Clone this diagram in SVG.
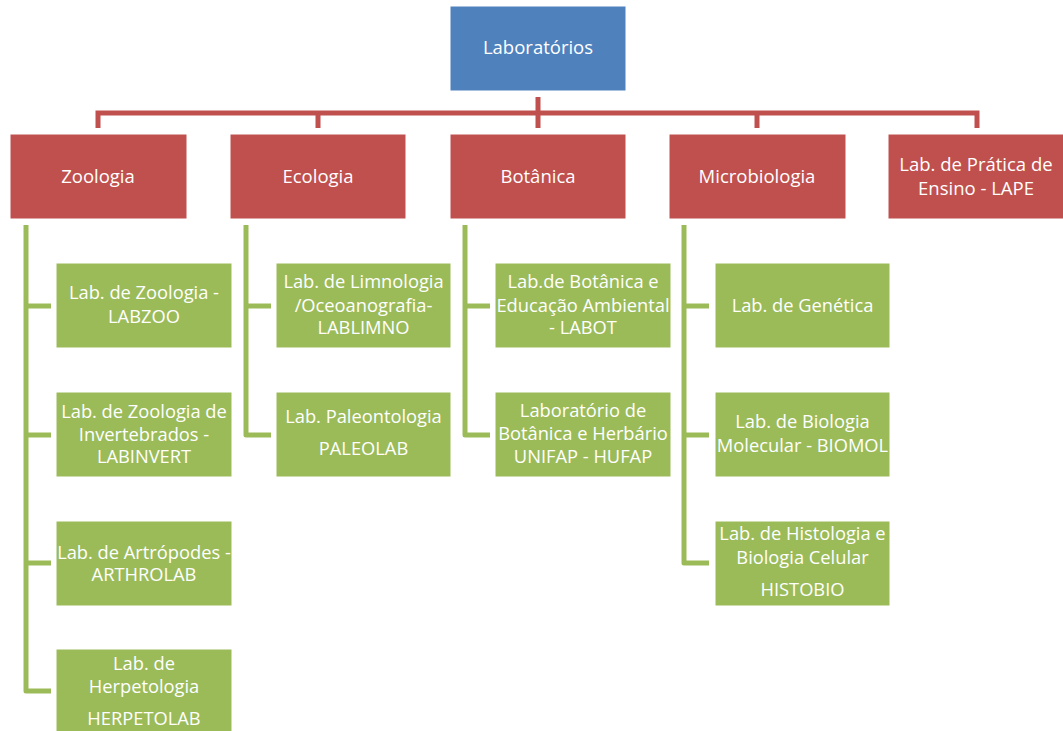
<svg xmlns="http://www.w3.org/2000/svg" width="1063" height="731" viewBox="0 0 1063 731">
<style>
.blue{fill:#4F81BD;stroke:#ffffff;stroke-width:1}
.red{fill:#C0504D;stroke:#ffffff;stroke-width:1}
.green{fill:#9BBB59;stroke:#ffffff;stroke-width:1}
.rl{fill:none;stroke:#C0504D;stroke-width:5}
.gl{fill:none;stroke:#9BBB59;stroke-width:5;stroke-linejoin:round}
text{font-family:"Open Sans","Liberation Sans",sans-serif;fill:#ffffff;text-anchor:middle}
.t1{font-size:18.5px}
.t2{font-size:18.3px}
</style>
<rect width="1063" height="731" fill="#ffffff"/>
<g id="connectors">
<path class="rl" d="M538,97V128M98,128V113H977V128M318,113V128M757,113V128"/>
<path class="gl" d="M26,225V691H51M26,306H51M26,435H51M26,563H51"/>
<path class="gl" d="M246,225V435H271M246,306H271"/>
<path class="gl" d="M465,225V435H490M465,306H490"/>
<path class="gl" d="M684,225V563H709M684,306H709M684,435H709"/>
</g>
<g id="n-lab"><rect class="blue" x="450" y="6" width="176" height="85"/><text class="t1" x="538" y="54">Laboratórios</text></g>
<g id="n-zoo"><rect class="red" x="10" y="134" width="177" height="85"/><text class="t1" x="98" y="183">Zoologia</text></g>
<g id="n-eco"><rect class="red" x="230" y="134" width="176" height="85"/><text class="t1" x="318" y="183">Ecologia</text></g>
<g id="n-bot"><rect class="red" x="450" y="134" width="176" height="85"/><text class="t1" x="538" y="183">Botânica</text></g>
<g id="n-mic"><rect class="red" x="669" y="134" width="177" height="85"/><text class="t1" x="757" y="183">Microbiologia</text></g>
<g id="n-lape"><rect class="red" x="888" y="134" width="176" height="85"/><text class="t1" x="976" y="171">Lab. de Prática de</text><text class="t1" x="976" y="195">Ensino - LAPE</text></g>
<g id="n-labzoo"><rect class="green" x="56" y="263" width="176" height="85"/><text class="t2" x="144" y="299">Lab. de Zoologia -</text><text class="t2" x="144" y="323">LABZOO</text></g>
<g id="n-labinvert"><rect class="green" x="56" y="392" width="176" height="85"/><text class="t2" x="144" y="418">Lab. de Zoologia de</text><text class="t2" x="144" y="441">Invertebrados -</text><text class="t2" x="144" y="463">LABINVERT</text></g>
<g id="n-arthrolab"><rect class="green" x="56" y="521" width="176" height="85"/><text class="t2" x="144" y="559">Lab. de Artrópodes -</text><text class="t2" x="144" y="581">ARTHROLAB</text></g>
<g id="n-herpetolab"><rect class="green" x="56" y="649" width="176" height="85"/><text class="t2" x="144" y="670">Lab. de</text><text class="t2" x="144" y="693">Herpetologia</text><text class="t2" x="144" y="725">HERPETOLAB</text></g>
<g id="n-lablimno"><rect class="green" x="276" y="263" width="175" height="85"/><text class="t2" x="363.5" y="288">Lab. de Limnologia</text><text class="t2" x="363.5" y="312">/Oceoanografia-</text><text class="t2" x="363.5" y="334">LABLIMNO</text></g>
<g id="n-paleolab"><rect class="green" x="276" y="392" width="175" height="85"/><text class="t2" x="363.5" y="423">Lab. Paleontologia</text><text class="t2" x="363.5" y="455">PALEOLAB</text></g>
<g id="n-labot"><rect class="green" x="495" y="263" width="176" height="85"/><text class="t2" x="583" y="288">Lab.de Botânica e</text><text class="t2" x="583" y="312">Educação Ambiental</text><text class="t2" x="583" y="334">- LABOT</text></g>
<g id="n-hufap"><rect class="green" x="495" y="392" width="176" height="85"/><text class="t2" x="583" y="417">Laboratório de</text><text class="t2" x="583" y="440">Botânica e Herbário</text><text class="t2" x="583" y="463">UNIFAP - HUFAP</text></g>
<g id="n-genetica"><rect class="green" x="715" y="263" width="175" height="85"/><text class="t2" x="802.5" y="312">Lab. de Genética</text></g>
<g id="n-biomol"><rect class="green" x="715" y="392" width="175" height="85"/><text class="t2" x="802.5" y="428">Lab. de Biologia</text><text class="t2" x="802.5" y="452">Molecular - BIOMOL</text></g>
<g id="n-histobio"><rect class="green" x="715" y="521" width="175" height="85"/><text class="t2" x="802.5" y="540">Lab. de Histologia e</text><text class="t2" x="802.5" y="564">Biologia Celular</text><text class="t2" x="802.5" y="596">HISTOBIO</text></g>
</svg>
